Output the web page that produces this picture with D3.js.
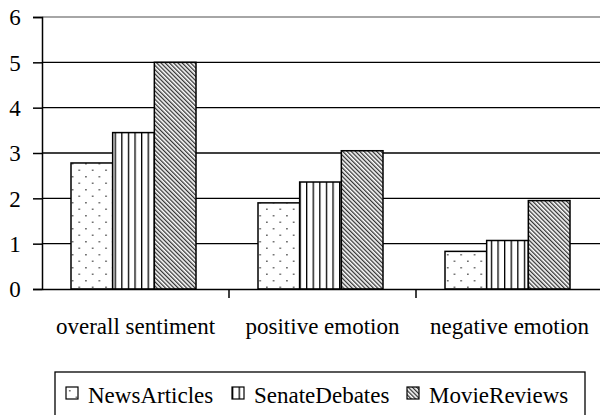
<!DOCTYPE html>
<html>
<head>
<meta charset="utf-8">
<script src="https://cdn.jsdelivr.net/npm/d3@7"></script>
<style>
  body { margin: 0; background: #fff; }
  text { font-family: "Liberation Serif", "Times New Roman", serif; fill: #000; }
</style>
</head>
<body>
<div id="chart"></div>
<script>
// chart data
const categories = ["overall sentiment", "positive emotion", "negative emotion"];
const seriesNames = ["NewsArticles", "SenateDebates", "MovieReviews"];
const newsArticles = [2.78, 1.9, 0.83];
const senateDebates = [3.45, 2.36, 1.07];
const movieReviews = [5.0, 3.05, 1.95];
const yTicks = [0, 1, 2, 3, 4, 5, 6];

const W = 600, H = 415;
const margin = {left: 42, top: 17, right: -3, bottom: 126};
const width = W - margin.left - margin.right;
const height = H - margin.top - margin.bottom;
const FONT = "23px";

const svg = d3.select("#chart").append("svg")
    .attr("width", W)
    .attr("height", H);

// fill patterns
const defs = svg.append("defs");
const dots = defs.append("pattern")
    .attr("id", "pat0").attr("patternUnits", "userSpaceOnUse")
    .attr("width", 13.4).attr("height", 13);
dots.append("rect").attr("width", 13.4).attr("height", 13).attr("fill", "#fff");
dots.append("rect").attr("x", 3).attr("y", 3).attr("width", 1.5).attr("height", 1.5).attr("fill", "#555");
dots.append("rect").attr("x", 9.7).attr("y", 9.5).attr("width", 1.5).attr("height", 1.5).attr("fill", "#555");

const vstripe = defs.append("pattern")
    .attr("id", "pat1").attr("patternUnits", "userSpaceOnUse")
    .attr("width", 6.6).attr("height", 10);
vstripe.append("rect").attr("width", 6.6).attr("height", 10).attr("fill", "#fff");
vstripe.append("rect").attr("x", 0).attr("width", 1.3).attr("height", 10).attr("fill", "#000");

const diag = defs.append("pattern")
    .attr("id", "pat2").attr("patternUnits", "userSpaceOnUse")
    .attr("width", 3).attr("height", 3)
    .attr("patternTransform", "rotate(-45)");
diag.append("rect").attr("width", 3).attr("height", 3).attr("fill", "#fff");
diag.append("rect").attr("x", 0).attr("width", 1.3).attr("height", 3).attr("fill", "#333");

const g = svg.append("g")
    .attr("transform", "translate(" + margin.left + "," + margin.top + ")");

const x0 = d3.scaleBand().domain(categories).range([0, width]);
const x1 = d3.scaleBand().domain(seriesNames).range([29, x0.bandwidth() - 33]);
const y = d3.scaleLinear().domain([0, 6]).range([height, 0]);

// gridlines
g.append("g")
    .selectAll("line")
    .data(yTicks.filter(d => d > 0))
    .enter().append("line")
    .attr("x1", 0).attr("x2", width)
    .attr("y1", d => y(d)).attr("y2", d => y(d))
    .attr("stroke", d => d === 6 ? "#888" : "#000")
    .attr("stroke-width", 1.3);

// bars
const allSeries = [newsArticles, senateDebates, movieReviews];
const rows = [];
categories.forEach((c, i) => {
    seriesNames.forEach((s, j) => rows.push({cat: c, name: s, idx: j, value: allSeries[j][i]}));
});

g.selectAll(".bar").data(rows).enter().append("rect")
    .attr("class", "bar")
    .attr("x", d => x0(d.cat) + x1(d.name))
    .attr("y", d => y(d.value))
    .attr("width", x1.bandwidth())
    .attr("height", d => height - y(d.value))
    .attr("fill", d => "url(#pat" + d.idx + ")")
    .attr("stroke", "#000")
    .attr("stroke-width", 1.5);

// y axis
const yAxis = g.append("g")
    .call(d3.axisLeft(y).tickValues(yTicks).tickSize(9).tickFormat(d3.format("d")));
yAxis.select(".domain").attr("stroke", "#000").attr("stroke-width", 1.5);
yAxis.selectAll(".tick line").attr("stroke", "#000").attr("stroke-width", 1.5);
yAxis.selectAll(".tick text")
    .attr("x", -27)
    .attr("dy", "0.34em")
    .style("text-anchor", "middle")
    .style("font-size", FONT)
    .style("font-family", "Liberation Serif");

// x axis
const xAxis = g.append("g")
    .attr("transform", "translate(0," + height + ")")
    .call(d3.axisBottom(x0).tickSize(0).tickPadding(0));
xAxis.select(".domain").attr("stroke", "#000").attr("stroke-width", 1.5);
xAxis.selectAll(".tick text")
    .attr("y", 45)
    .attr("dy", 0)
    .style("font-size", FONT)
    .style("font-family", "Liberation Serif");

// category separators
g.append("g").selectAll("line")
    .data(categories.slice(0, 2))
    .enter().append("line")
    .attr("x1", d => x0(d) + x0.bandwidth())
    .attr("x2", d => x0(d) + x0.bandwidth())
    .attr("y1", height)
    .attr("y2", height + 9)
    .attr("stroke", "#000")
    .attr("stroke-width", 1.5);

// legend
const legend = svg.append("g").attr("transform", "translate(55,372)");
legend.append("rect")
    .attr("x", 0).attr("y", 0)
    .attr("width", 530).attr("height", 60)
    .attr("fill", "#fff").attr("stroke", "#000").attr("stroke-width", 1.3);

const legendX = [11, 177, 352];
const legendItem = legend.selectAll(".leg").data(seriesNames).enter().append("g")
    .attr("class", "leg")
    .attr("transform", (d, i) => "translate(" + legendX[i] + ",15)");
legendItem.append("rect")
    .attr("width", 12).attr("height", 12)
    .attr("fill", (d, i) => "url(#pat" + i + ")")
    .attr("stroke", "#000").attr("stroke-width", 1.2);
legendItem.append("text")
    .attr("x", 22).attr("y", 16)
    .style("font-size", FONT)
    .text(d => d);
</script>
</body>
</html>
